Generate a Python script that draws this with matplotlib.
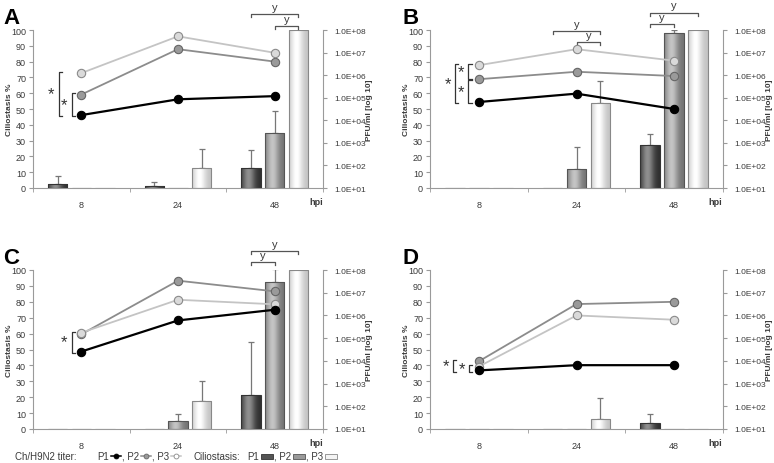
import numpy as np
import matplotlib
matplotlib.use("Agg")
import matplotlib.pyplot as plt
from matplotlib.lines import Line2D
from matplotlib.patches import Rectangle

plt.rcParams['font.family'] = ['Liberation Sans', 'DejaVu Sans']
narrow = ['Liberation Sans Narrow', 'Liberation Sans', 'DejaVu Sans']

hpi = ['8', '24', '48']
series = ['P1', 'P2', 'P3']

# virus titers, log10 PFU/ml (rows P1, P2, P3)
titer_A = [[4.23, 4.93, 5.07], [5.14, 7.15, 6.60], [6.09, 7.72, 6.99]]
titer_B = [[4.81, 5.18, 4.50], [5.82, 6.15, 5.96], [6.44, 7.15, 6.64]]
titer_C = [[4.41, 5.78, 6.25], [5.17, 7.53, 7.06], [5.24, 6.69, 6.49]]
titer_D = [[3.58, 3.81, 3.81], [3.98, 6.50, 6.60], [3.75, 6.00, 5.81]]

# ciliostasis % and upper error (rows P1, P2, P3)
cilio_A = [[2.5, 1, 12.5], [0, 0, 35], [0, 12.5, 100]]
err_A = [[5, 2.5, 11.5], [0, 0, 13.5], [0, 12.5, 0]]
cilio_B = [[0, 0, 27.5], [0, 12, 98], [0, 54, 100]]
err_B = [[0, 0, 6.5], [0, 14, 2], [0, 14, 0]]
cilio_C = [[0, 0, 21.5], [0, 5, 92.5], [0, 17.5, 100]]
err_C = [[0, 0, 33], [0, 4.5, 8], [0, 12.5, 0]]
cilio_D = [[0, 0, 3.5], [0, 0, 0], [0, 6, 0]]
err_D = [[0, 0, 6], [0, 0, 0], [0, 13.5, 0]]

# significance between ciliostasis bars: (time, bar a, bar b, height %)
ysig_A = [(2, 0, 2, 110), (2, 1, 2, 102.5)]
ysig_B = [(1, 0, 2, 99.4), (1, 1, 2, 92.4), (2, 0, 2, 111), (2, 0, 1, 103.6)]
ysig_C = [(2, 0, 2, 111.8), (2, 0, 1, 105)]
ysig_D = []

# significance between titers at 8 hpi: (series lo, series hi, x offset)
star_A = [(0, 2, -0.235), (0, 1, -0.10)]
star_B = [(0, 2, -0.245), (1, 2, -0.109), (0, 1, -0.109)]
star_C = [(0, 2, -0.10)]
star_D = [(0, 1, -0.265), (0, 2, -0.10)]

panels = [
    ('A', titer_A, cilio_A, err_A, ysig_A, star_A, [33, 31, 290, 158], 3),
    ('B', titer_B, cilio_B, err_B, ysig_B, star_B, [430, 31, 293, 158], 402),
    ('C', titer_C, cilio_C, err_C, ysig_C, star_C, [33, 271, 290, 159], 3),
    ('D', titer_D, cilio_D, err_D, ysig_D, star_D, [430, 271, 293, 159], 403),
]

W, H = 774, 464
line_col = ['black', '#8c8c8c', '#c4c4c4']
mfc = ['black', '#9a9a9a', '#dadada']
mec = ['black', '#666666', '#8a8a8a']
bar_edge = ['#333333', '#555555', '#888888']
bar_shade = [(0.18, 0.38), (0.45, 0.32), (0.76, 0.24)]
bar_flat = ['#555555', '#9a9a9a', '#f4f4f4']
offs = [-0.245, 0.0, 0.245]
bw = 0.2
axis_col = '#9a9a9a'
txt_col = '#3a3a3a'


def shade_bar(ax, rect, base, amp):
    x0, y0 = rect.get_xy()
    w, h = rect.get_width(), rect.get_height()
    if h <= 0:
        return
    t = np.linspace(0, 1, 64)
    prof = np.clip(base + amp * np.exp(-((t - 0.38) / 0.32) ** 2), 0, 1)
    img = np.tile(prof, (2, 1))
    im = ax.imshow(img, cmap='gray', vmin=0, vmax=1, aspect='auto',
                   extent=[x0, x0 + w, y0, y0 + h], origin='lower',
                   interpolation='bilinear', zorder=2)
    im.set_clip_path(rect)


fig = plt.figure(figsize=(W / 100, H / 100), dpi=100)

for name, titer, cilio, err, ysig, stars, (px, py, pw, ph), lx in panels:
    ax = fig.add_axes([px / W, 1 - (py + ph) / H, pw / W, ph / H])
    x = np.arange(len(hpi))

    for i in range(3):
        bars = ax.bar(x + offs[i], cilio[i], bw, facecolor='none',
                      edgecolor=bar_edge[i], linewidth=0.8, zorder=3)
        for r in bars:
            shade_bar(ax, r, *bar_shade[i])
        e = np.array(err[i])
        m = e > 0
        if m.any():
            ax.errorbar((x + offs[i])[m], np.array(cilio[i])[m],
                        yerr=[np.zeros(m.sum()), e[m]], fmt='none',
                        ecolor='#777777', elinewidth=0.9, capsize=2.5,
                        capthick=0.9, zorder=1)

    ax.set_xlim(-0.5, 2.5)
    ax.set_ylim(0, 100)
    ax.set_yticks(range(0, 101, 10))
    ax.set_xticks(x)
    ax.set_xticklabels(hpi)
    ax.set_xticks([-0.5, 0.5, 1.5, 2.5], minor=True)
    ax.tick_params(axis='x', which='major', length=0, pad=9, labelsize=6.5,
                   labelcolor=txt_col)
    ax.tick_params(axis='x', which='minor', length=3, color=axis_col)
    ax.tick_params(axis='y', length=3, color=axis_col, labelsize=6.5,
                   labelcolor=txt_col, pad=2)
    for s in ['top', 'right']:
        ax.spines[s].set_visible(False)
    for s in ['left', 'bottom']:
        ax.spines[s].set_color(axis_col)
        ax.spines[s].set_linewidth(0.8)
    ax.set_ylabel('Ciliostasis %', fontsize=6, fontweight='bold', color=txt_col)
    ax.yaxis.set_label_coords(-20 / pw, 0.5)
    ax.text(0.975, -0.085, 'hpi', transform=ax.transAxes, fontsize=6.5,
            fontweight='bold', ha='center', va='center', color=txt_col)

    # significance brackets over bars
    for t, a, b, hgt in ysig:
        xa, xb = t + offs[a], t + offs[b]
        ax.plot([xa, xa, xb, xb], [hgt - 2, hgt, hgt, hgt - 2], color='#555555',
                lw=0.9, clip_on=False, zorder=4)
        ax.text((xa + xb) / 2, hgt + 1.5, 'y', fontsize=8, ha='center',
                va='bottom', color=txt_col, clip_on=False)

    # titers on the right axis
    tw = ax.twinx()
    tw.set_ylim(1, 8)
    tw.set_xlim(-0.5, 2.5)
    tw.set_yticks(range(1, 9))
    tw.set_yticklabels(['1.0E+%02d' % k for k in range(1, 9)],
                       fontfamily=narrow)
    tw.tick_params(axis='y', length=3, color=axis_col, labelsize=6,
                   labelcolor=txt_col, pad=5)
    for s in ['top', 'left', 'bottom']:
        tw.spines[s].set_visible(False)
    tw.spines['right'].set_color(axis_col)
    tw.spines['right'].set_linewidth(0.8)
    tw.text(1 + 46 / pw, 0.5, 'PFU/ml [log 10]', transform=tw.transAxes,
            rotation=90, fontsize=6, fontweight='bold', color=txt_col,
            ha='center', va='center')

    for i in [1, 2, 0]:
        tw.plot(x, titer[i], color=line_col[i], lw=1.6 if i == 0 else 1.3,
                marker='o', ms=6, mfc=mfc[i], mec=mec[i], mew=0.8,
                zorder=5, clip_on=False)

    for lo, hi, xo in stars:
        y0, y1 = titer[lo][0] - 0.05, titer[hi][0] + 0.05
        if len(stars) == 3 and xo > -0.2:
            if hi == 2:
                y0 += 0.08
            else:
                y1 -= 0.1
        tw.plot([xo + 0.035, xo, xo, xo + 0.035], [y0, y0, y1, y1],
                color='#333333', lw=0.9, clip_on=False)
        tw.text(xo - 0.075, (y0 + y1) / 2, '*', fontsize=12, ha='center',
                va='center', color='#333333')

    fig.text(lx / W, 1 - (py - 7) / H, name, fontsize=16, fontweight='bold',
             ha='left', va='baseline')

# legend line at the bottom, laid out piece by piece
ly = 1 - 457 / H
fs = 7
rend = fig.canvas.get_renderer()


def put_text(xpix, s):
    t = fig.text(xpix / W, ly, s, fontsize=fs, va='center', color=txt_col)
    return xpix + t.get_window_extent(rend).width


fig.text(15 / W, ly, 'Ch/H9N2 titer:', fontsize=fs, va='center', color=txt_col)
cx = 97
for i in range(3):
    cx = put_text(cx, series[i] if i == 0 else ', ' + series[i]) + 2
    fig.add_artist(Line2D([cx / W, (cx + 10) / W], [ly, ly], color=line_col[i],
                          lw=1.1, transform=fig.transFigure))
    fig.add_artist(Line2D([(cx + 5) / W], [ly], marker='o', ms=3.5,
                          mfc=mfc[i] if i < 2 else 'white', mec=mec[i],
                          mew=0.6, transform=fig.transFigure))
    cx += 11

fig.text(193 / W, ly, 'Ciliostasis:', fontsize=fs, va='center', color=txt_col)
cx = 247
for i in range(3):
    cx = put_text(cx, series[i] if i == 0 else ', ' + series[i]) + 2
    fig.add_artist(Rectangle((cx / W, ly - 2.5 / H), 12 / W, 5 / H,
                             facecolor=bar_flat[i], edgecolor=bar_edge[i],
                             lw=0.6, transform=fig.transFigure))
    cx += 13

fig.savefig('out.png', dpi=100)
